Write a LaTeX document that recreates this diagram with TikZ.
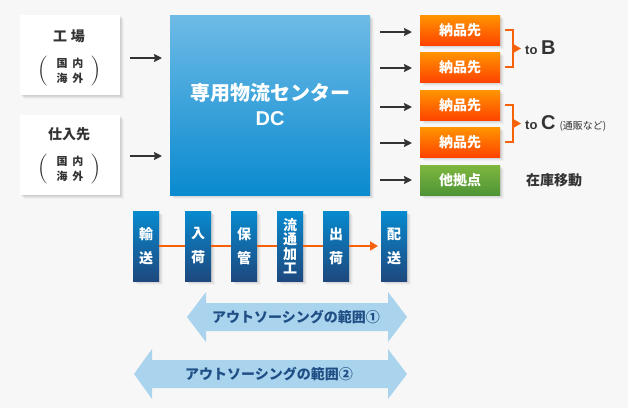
\documentclass[tikz,border=0pt]{standalone}
\usepackage{fontspec}
\setmainfont{Noto Sans CJK JP}
\newfontfamily\latinf{Liberation Sans}
\newfontfamily\thinf{Latin Modern Roman}
\usetikzlibrary{arrows.meta,shadows,calc}
\definecolor{bgc}{HTML}{F7F7F7}
\definecolor{ink}{HTML}{333333}
\definecolor{orangeline}{HTML}{F5620A}
\definecolor{arrowblue}{HTML}{AAD3EE}
\definecolor{arrowtext}{HTML}{1F4E85}
\newcommand{\fs}[2]{\fontsize{#1}{#2}\selectfont}
\tikzset{
  softshadow/.style={
    general shadow={fill=black,opacity=.05,shadow xshift=1pt,shadow yshift=-1pt},
    general shadow={fill=black,opacity=.05,shadow xshift=2pt,shadow yshift=-2pt},
    general shadow={fill=black,opacity=.04,shadow xshift=3pt,shadow yshift=-3pt},
    general shadow={fill=black,opacity=.03,shadow xshift=4pt,shadow yshift=-4pt}},
  box/.style={inner sep=0pt,outer sep=0pt,align=center,softshadow},
  srcbox/.style={box,fill=white,minimum width=100pt,minimum height=80pt},
  dcbox/.style={box,top color=dctop,bottom color=dcbot,shading angle=0,minimum width=200pt,minimum height=180pt,text=white,font=\bfseries\fs{20}{25}},
  destbox/.style={box,top color=ortop,bottom color=orbot,minimum width=80pt,minimum height=30pt,text=white,font=\bfseries\fs{14}{16}},
  otherbox/.style={box,top color=grtop,bottom color=grbot,minimum width=80pt,minimum height=30pt,text=white,font=\bfseries\fs{14}{16}},
  stepbox/.style={box,top color=sttop,bottom color=stbot,minimum width=26pt,minimum height=70pt,text=white,font=\bfseries\fs{14}{24}},
  stepboxb/.style={stepbox,font=\bfseries\fs{14}{14.5}},
  flow/.style={draw=ink,line width=1.8pt,-{Stealth[length=8pt,width=8pt,inset=1pt]},shorten <=10pt,shorten >=8pt},
  procline/.style={draw=orangeline,line width=1.8pt},
  brace/.style={draw=orangeline,line width=1.6pt},
  bracetip/.style={draw=orangeline,line width=1.2pt,-{Triangle[length=8pt,width=9pt]}},
  bigband/.style={fill=arrowblue},
  bandlabel/.style={text=arrowtext,font=\bfseries\fs{14}{16}},
  plain/.style={text=ink,inner sep=0pt},
  paren/.style={plain,font=\thinf\fs{30}{30}}
}
\definecolor{dctop}{HTML}{6EBBE6}
\definecolor{dcbot}{HTML}{0A8ACF}
\definecolor{ortop}{HTML}{FF9500}
\definecolor{orbot}{HTML}{FF4400}
\definecolor{grtop}{HTML}{7FB73F}
\definecolor{grbot}{HTML}{4E9436}
\definecolor{sttop}{HTML}{078ACF}
\definecolor{stbot}{HTML}{1E487E}
\begin{document}
\begin{tikzpicture}[x=1pt,y=-1pt]
\useasboundingbox[fill=bgc] (0,0) rectangle (628,408);
% source boxes
\node[srcbox] (factory) at (70,55) {};
\node[srcbox] (supplier) at (70,155) {};
\node[plain,font=\bfseries\fs{14}{16}] (factoryname) at (69,36) {工\hspace{4pt}場};
\node[plain,font=\bfseries\fs{14}{16}] (suppliername) at (69,134) {仕入先};
\node[plain,align=center,font=\bfseries\fs{11}{15}] (factoryplace) at (70,70.5) {国\hspace{5pt}内\\海\hspace{5pt}外};
\node[plain,align=center,font=\bfseries\fs{11}{15}] (supplierplace) at (70,168.5) {国\hspace{5pt}内\\海\hspace{5pt}外};
\node[paren] (pl1) at (43,71) {(};
\node[paren] (pr1) at (95.5,71) {)};
\node[paren] (pl2) at (43,169) {(};
\node[paren] (pr2) at (95.5,169) {)};
% centre
\node[dcbox] (dc) at (270,105) {専用物流センター\\{\latinf\bfseries\fs{20}{25}DC}};
% destinations
\node[destbox] (d1) at (460,30) {納品先};
\node[destbox] (d2) at (460,67) {納品先};
\node[destbox] (d3) at (460,105) {納品先};
\node[destbox] (d4) at (460,142) {納品先};
\node[otherbox] (d5) at (460,180) {他拠点};
% flows
\coordinate (ya) at (0,58);
\coordinate (yb) at (0,156);
\draw[flow] (factory.east |- ya) -- (dc.west |- ya);
\draw[flow] (supplier.east |- yb) -- (dc.west |- yb);
\coordinate (r1) at (0,32);
\coordinate (r2) at (0,68);
\coordinate (r3) at (0,107);
\coordinate (r4) at (0,143);
\coordinate (r5) at (0,180);
\draw[flow] (dc.east |- r1) -- (d1.west |- r1);
\draw[flow] (dc.east |- r2) -- (d2.west |- r2);
\draw[flow] (dc.east |- r3) -- (d3.west |- r3);
\draw[flow] (dc.east |- r4) -- (d4.west |- r4);
\draw[flow] (dc.east |- r5) -- (d5.west |- r5);
% labels right
\node[plain,anchor=base west,font=\latinf\bfseries\fs{13}{16}] (tob) at (525,54) {to \fs{20}{20}B};
\node[plain,anchor=base west,font=\latinf\bfseries\fs{13}{16}] (toc) at (525,129) {to \fs{20}{20}C\hspace{4pt}\rmfamily\mdseries\fs{10}{10}(通販など)};
\node[plain,font=\bfseries\fs{14}{16}] (move) at (554,180) {在庫移動};
% brackets
\draw[brace] ([xshift=5pt]d1.east) -- ++(8,0) coordinate (b1) -- (b1 |- d2.east) coordinate (b2) -- ([xshift=5pt]d2.east);
\draw[brace] ([xshift=5pt]d3.east) -- ++(8,0) coordinate (c1) -- (c1 |- d4.east) coordinate (c2) -- ([xshift=5pt]d4.east);
\draw[bracetip] ($(b1)!.5!(b2)$) -- ++(8,0);
\draw[bracetip] ($(c1)!.5!(c2)$) -- ++(8,0);
% process steps
\node[stepbox] (s1) at (146,246) {輸\\送};
\node[stepbox] (s2) at (198,246) {入\\荷};
\node[stepbox] (s3) at (244,246) {保\\管};
\node[stepboxb] (s4) at (290,246) {流\\通\\加\\工};
\node[stepbox] (s5) at (336,246) {出\\荷};
\node[stepbox] (s6) at (394,246) {配\\送};
\draw[procline] (s1) -- (s2);
\draw[procline] (s2) -- (s3);
\draw[procline] (s3) -- (s4);
\draw[procline] (s4) -- (s5);
\draw[procline,-{Triangle[length=8pt,width=9pt]},shorten >=3pt] (s5) -- (s6);
% scope arrows
\fill[bigband] (187,317) -- (206,292) -- (206,303) -- (388,303) -- (388,292) -- (407,317) -- (388,342) -- (388,331) -- (206,331) -- (206,342) -- cycle;
\fill[bigband] (134,374) -- (152,349) -- (152,360) -- (388,360) -- (388,349) -- (407,374) -- (388,399) -- (388,388) -- (152,388) -- (152,399) -- cycle;
\node[bandlabel] (scope1) at (296,317) {アウトソーシングの範囲①};
\node[bandlabel] (scope2) at (269,374) {アウトソーシングの範囲②};
\end{tikzpicture}
\end{document}
